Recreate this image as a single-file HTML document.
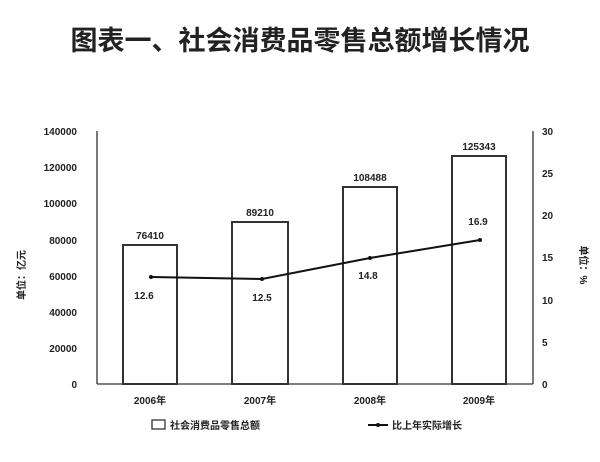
<!DOCTYPE html>
<html><head><meta charset="utf-8"><style>
body{margin:0;background:#fff}
</style></head><body>
<svg width="600" height="457" xmlns="http://www.w3.org/2000/svg" font-family="'Liberation Sans','Noto Sans CJK SC',sans-serif" fill="#222">
<text x="300" y="50" font-size="27" font-weight="bold" text-anchor="middle" font-family="'Noto Sans CJK SC',sans-serif">图表一、社会消费品零售总额增长情况</text>
<g stroke="#333" stroke-width="1.3" fill="none">
<line x1="97" y1="131" x2="97" y2="384"/>
<line x1="97" y1="384" x2="533" y2="384"/>
<line x1="533" y1="131" x2="533" y2="384"/>
<rect x="123" y="245" width="54" height="139" stroke-width="2"/>
<rect x="232" y="222" width="56" height="162" stroke-width="2"/>
<rect x="343" y="187" width="54" height="197" stroke-width="2"/>
<rect x="452" y="156" width="54" height="228" stroke-width="2"/>
<polyline points="151,277 262,279 370,258 480,240" stroke="#111" stroke-width="2"/>
</g>
<g fill="#111"><circle cx="151" cy="277" r="2"/><circle cx="262" cy="279" r="2"/><circle cx="370" cy="258" r="2"/><circle cx="480" cy="240" r="2"/></g>
<g font-size="10" font-weight="bold" text-anchor="end">
<text x="77" y="135">140000</text><text x="77" y="171">120000</text><text x="77" y="207">100000</text><text x="77" y="244">80000</text><text x="77" y="280">60000</text><text x="77" y="316">40000</text><text x="77" y="352">20000</text><text x="77" y="388">0</text>
</g>
<g font-size="10" font-weight="bold">
<text x="542" y="135">30</text><text x="542" y="177">25</text><text x="542" y="219">20</text><text x="542" y="261">15</text><text x="542" y="304">10</text><text x="542" y="346">5</text><text x="542" y="388">0</text>
</g>
<g font-size="10" font-weight="bold" text-anchor="middle">
<text x="150" y="239">76410</text><text x="260" y="216">89210</text><text x="370" y="181">108488</text><text x="479" y="150">125343</text>
<text x="144" y="299">12.6</text><text x="262" y="301">12.5</text><text x="368" y="279">14.8</text><text x="478" y="225">16.9</text>
<text x="150" y="404">2006年</text><text x="260" y="404">2007年</text><text x="370" y="404">2008年</text><text x="479" y="404">2009年</text>
</g>
<text transform="translate(25,275) rotate(-90)" font-size="10" font-weight="bold" text-anchor="middle">单位：亿元</text>
<text transform="translate(580,265) rotate(90)" font-size="10" font-weight="bold" text-anchor="middle">单位：%</text>
<rect x="152" y="420" width="13" height="9" fill="none" stroke="#333" stroke-width="1.3"/>
<text x="170" y="429" font-size="10" font-weight="bold">社会消费品零售总额</text>
<line x1="368" y1="425" x2="388" y2="425" stroke="#111" stroke-width="2"/>
<circle cx="378" cy="425" r="2" fill="#111"/>
<text x="392" y="429" font-size="10" font-weight="bold">比上年实际增长</text>
</svg>
</body></html>
